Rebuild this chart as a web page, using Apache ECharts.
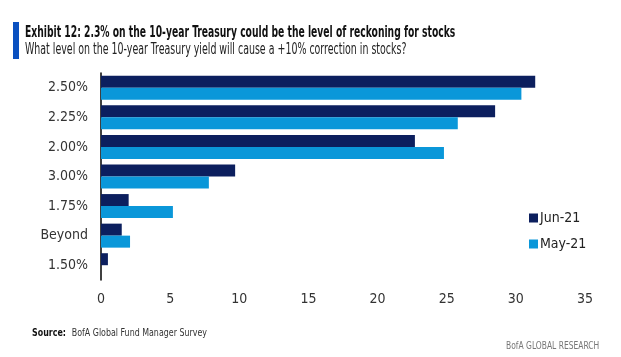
<!DOCTYPE html>
<html><head><meta charset="utf-8">
<script src="https://cdn.jsdelivr.net/npm/echarts@6/dist/echarts.min.js"></script>
<style>html,body{margin:0;padding:0;background:#fff;}#c{width:621px;height:357px;}</style>
</head><body><div id="c"></div>
<script>
const categories = ['2.50%', '2.25%', '2.00%', '3.00%', '1.75%', 'Beyond', '1.50%'];
const jun21 = [31.4, 28.5, 22.7, 9.7, 2.0, 1.5, 0.5];
const may21 = [30.4, 25.8, 24.8, 7.8, 5.2, 2.1, 0];
const xTicks = [0, 5, 10, 15, 20, 25, 30, 35];
const NAVY = '#0c1f5e', LIGHT = '#0a97d9';
const FONT = '"DejaVu Sans Condensed", "Liberation Sans Narrow", "Liberation Sans", sans-serif';
const chart = echarts.init(document.getElementById('c'));
chart.setOption({
  animation: false,
  textStyle: {fontFamily: FONT},
  grid: {left: 101, right: 36, top: 73, bottom: 77, containLabel: false},
  xAxis: {
    type: 'value', min: xTicks[0], max: xTicks[xTicks.length-1], interval: 5,
    axisLine: {show: false}, axisTick: {show: false}, splitLine: {show: false},
    axisLabel: {color: '#333', fontSize: 14, margin: 12, fontFamily: FONT}
  },
  yAxis: {
    type: 'category', data: categories, inverse: true,
    axisLine: {show: true, lineStyle: {color: '#000', width: 1.5}},
    axisTick: {show: false},
    axisLabel: {color: '#333', fontSize: 14, margin: 13, fontFamily: FONT}
  },
  legend: {
    orient: 'vertical', left: 524, top: 206, itemWidth: 9, itemHeight: 9, itemGap: 12,
    icon: 'rect', textStyle: {color: '#222', fontSize: 14, padding: [0,0,0,-3], fontFamily: FONT},
    data: ['Jun-21', 'May-21']
  },
  series: [
    {name: 'Jun-21', type: 'bar', data: jun21, barWidth: 12, barGap: '0%', itemStyle: {color: NAVY}},
    {name: 'May-21', type: 'bar', data: may21, barWidth: 12, barGap: '0%', itemStyle: {color: LIGHT}}
  ],
  graphic: [
    {type: 'rect', shape: {x: 13, y: 22, width: 6, height: 37}, style: {fill: '#0a50c0'}},
    {type: 'text', x: 25, y: 25, scaleX: 0.64, style: {text: 'Exhibit 12: 2.3% on the 10-year Treasury could be the level of reckoning for stocks', font: 'bold 16px ' + FONT, fill: '#111', verticalAlign: 'top'}},
    {type: 'text', x: 25, y: 43, scaleX: 0.70, style: {text: 'What level on the 10-year Treasury yield will cause a +10% correction in stocks?', font: '15px ' + FONT, fill: '#222', verticalAlign: 'top'}},
    {type: 'text', x: 32, y: 327, scaleX: 0.88, style: {rich: {b: {font: 'bold 10px ' + FONT, fill: '#111'}, n: {font: '10px ' + FONT, fill: '#333'}}, text: '{b|Source:}  {n|BofA Global Fund Manager Survey}', verticalAlign: 'top'}},
    {type: 'text', x: 506, y: 341, scaleX: 0.84, style: {text: 'BofA GLOBAL RESEARCH', font: '10px ' + FONT, fill: '#777', verticalAlign: 'top'}}
  ]
});
</script></body></html>
